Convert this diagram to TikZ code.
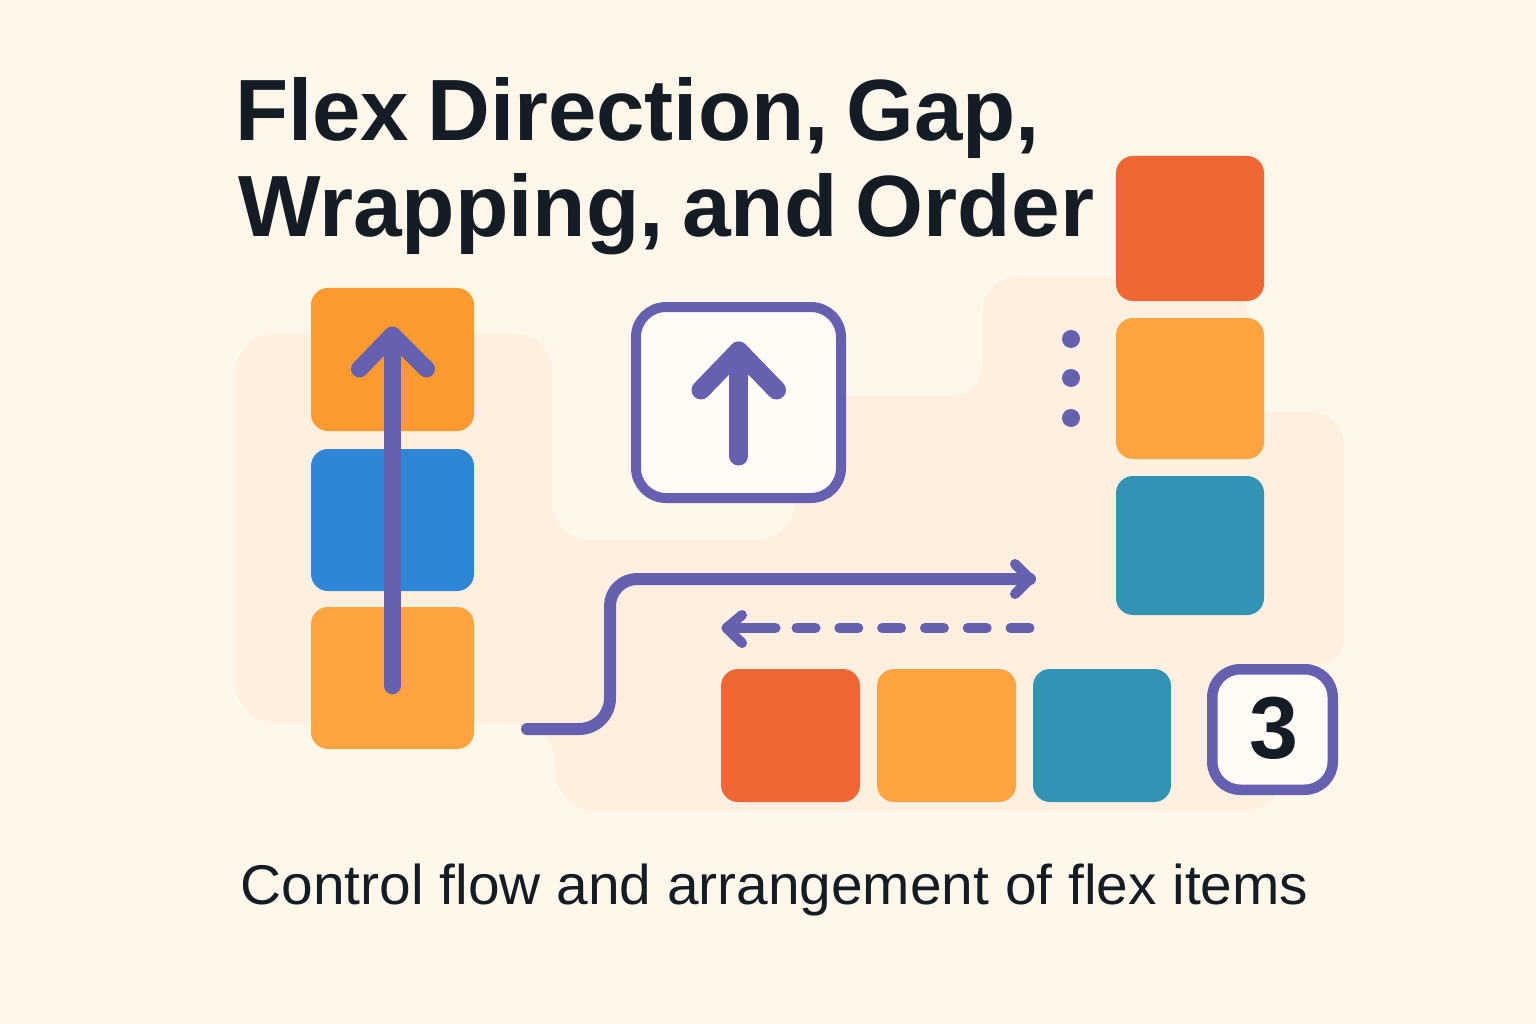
\documentclass[tikz,border=0pt]{standalone}
\usepackage{fontspec}
\setmainfont{Liberation Sans}
\newfontfamily\titlefam[WordSpace=0.75]{Liberation Sans}
\definecolor{bgc}{HTML}{FFF8EA}
\definecolor{blobc}{HTML}{FDF0E1}
\definecolor{orangeA}{HTML}{FC9A30}
\definecolor{orangeB}{HTML}{FFA440}
\definecolor{blueA}{HTML}{2F86D6}
\definecolor{redA}{HTML}{F06735}
\definecolor{tealA}{HTML}{3393B5}
\definecolor{purp}{HTML}{6660B0}
\definecolor{inkc}{HTML}{141C26}
\definecolor{paper}{HTML}{FFFCF5}
\tikzset{
  card/.style={rectangle,rounded corners=17pt,inner sep=0pt,outer sep=0pt},
  framebox/.style={rectangle,draw=purp,fill=paper,inner sep=0pt,outer sep=0pt},
  flow/.style={draw=purp,line cap=round,line join=round},
  dotn/.style={circle,fill=purp,minimum size=18pt,inner sep=0pt},
  titletext/.style={anchor=base west,inner sep=0pt,text=inkc,font=\titlefam\fontsize{87}{87}\selectfont\bfseries},
  subtext/.style={anchor=base west,inner sep=0pt,text=inkc,font=\fontsize{56}{56}\selectfont}
}
\begin{document}
\begin{tikzpicture}[x=1pt,y=-1pt]
\useasboundingbox (0,0) rectangle (1536,1024);
\fill[bgc] (0,0) rectangle (1536,1024);
% soft backdrop
\fill[blobc] (400,334) [rounded corners=38pt] -- (552,334) -- (552,540) -- (795,540) -- (795,396)
  [rounded corners=32pt] -- (983,396) -- (983,278) [rounded corners=40pt] -- (1248,278) [rounded corners=2pt] -- (1248,412)
  [rounded corners=34pt] -- (1344,412) [rounded corners=24pt] -- (1344,664) [sharp corners] -- (1285,664)
  [rounded corners=40pt] -- (1285,810) -- (555,810) -- (555,722) [sharp corners] -- (400,722)
  [rounded corners=38pt] -- (236,722) -- (236,334) -- cycle;
% title
\node[titletext] (t1) at (235,141) {Flex Direction, Gap,};
\node[titletext] (t2) at (238,237) {\scalebox{1.005}[1]{Wrapping, and Order}};
\node[subtext] (t3) at (240.5,904.5) {\scalebox{1.015}[1]{Control flow and arrangement of flex items}};
% left column
\node[card,fill=orangeA,minimum width=163pt,minimum height=143pt] (la) at (392.5,359.5) {};
\node[card,fill=blueA,minimum width=163pt,minimum height=142pt] (lb) at (392.5,520) {};
\node[card,fill=orangeB,minimum width=163pt,minimum height=142pt] (lc) at (392.5,678) {};
% right column
\node[card,fill=redA,minimum width=148pt,minimum height=145pt] (ra) at (1190,228.5) {};
\node[card,fill=orangeB,minimum width=148pt,minimum height=141pt] (rb) at (1190,388.5) {};
\node[card,fill=tealA,minimum width=148pt,minimum height=139pt] (rc) at (1190,545.5) {};
% bottom row
\node[card,fill=redA,minimum width=139pt,minimum height=133pt] (ba) at (790.5,735.5) {};
\node[card,fill=orangeB,minimum width=139pt,minimum height=133pt] (bb) at (946.5,735.5) {};
\node[card,fill=tealA,minimum width=138pt,minimum height=133pt] (bc) at (1102,735.5) {};
% framed boxes
\node[framebox,line width=10pt,rounded corners=30pt,minimum width=205pt,minimum height=191pt] (up) at (738.5,402.5) {};
\node[framebox,line width=10.5pt,rounded corners=28pt,minimum width=120.5pt,minimum height=120.5pt] (three) at (1272.5,729.5) {};
\node[text=inkc,inner sep=0pt,font=\fontsize{88}{88}\selectfont\bfseries] (num) at (1274,728) {3};
% dots
\node[dotn] (d1) at (1071,339) {};
\node[dotn] (d2) at (1071,378) {};
\node[dotn] (d3) at (1071,418) {};
% connectors: vertical arrow over the left column
\coordinate (lfrom) at (392.3,686);
\coordinate (lto) at (392.3,335);
\coordinate (lh1) at (359.5,369);
\coordinate (lh2) at (426.5,369);
\draw[flow,line width=16.5pt] (lfrom) -- (lto);
\draw[flow,line width=17pt] (lh1) -- (lto) -- (lh2);
% up arrow inside the frame
\coordinate (ufrom) at (738.7,456);
\coordinate (uto) at (738.7,351);
\coordinate (uh1) at (701,390);
\coordinate (uh2) at (776.5,390);
\draw[flow,line width=19pt] (ufrom) -- (uto);
\draw[flow,line width=19pt] (uh1) -- (uto) -- (uh2);
% stepped arrow
\coordinate (cfrom) at (527,729);
\coordinate (cknee) at (610,729);
\coordinate (cbend) at (610,579);
\coordinate (cto) at (1030,579);
\coordinate (ch1) at (1015,564);
\coordinate (ch2) at (1015,594);
\draw[flow,line width=12pt] (cfrom) [rounded corners=31pt] -- (cknee) [rounded corners=27pt] -- (cbend) [sharp corners] -- (cto);
\draw[flow,line width=10pt] (ch1) -- (cto) -- (ch2);
% dashed return arrow
\coordinate (dfrom) at (1029.5,628);
\coordinate (dmid) at (790,628);
\coordinate (dsolid) at (775.5,628);
\coordinate (dto) at (726.5,628);
\coordinate (dh1) at (742,615);
\coordinate (dh2) at (742,643);
\draw[flow,line width=10pt,dash pattern=on 19pt off 23.8pt] (dfrom) -- (dmid);
\draw[flow,line width=10pt] (dsolid) -- (dto);
\draw[flow,line width=10pt] (dh1) -- (dto) -- (dh2);
\end{tikzpicture}
\end{document}
